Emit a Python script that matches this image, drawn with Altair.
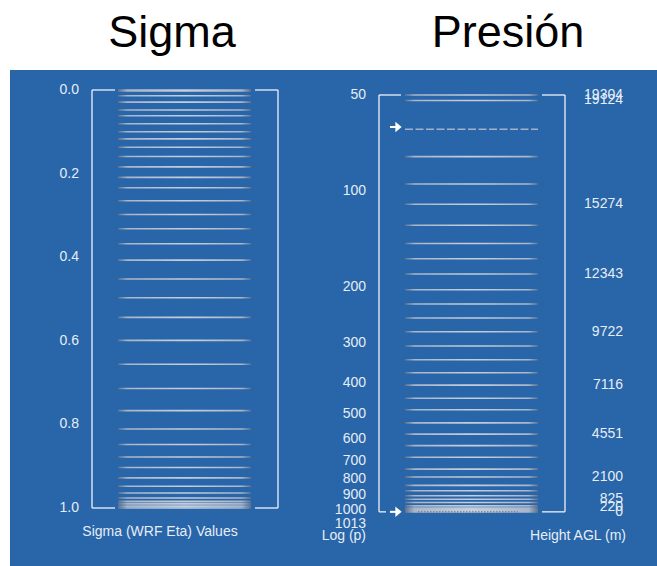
import altair as alt
import pandas as pd

# Model levels in sigma (WRF eta) coordinates, from model top (0) to surface (1)
sigma_levels = [0.0, 0.002, 0.0136, 0.029, 0.048, 0.0615, 0.0806, 0.100, 0.117,
                0.137, 0.159, 0.184, 0.209, 0.234, 0.265, 0.298, 0.332, 0.368,
                0.407, 0.452, 0.497, 0.544, 0.599, 0.656, 0.714, 0.767, 0.811,
                0.848, 0.878, 0.903, 0.928, 0.948, 0.964, 0.976, 0.984, 0.989,
                0.993, 0.997, 1.0]

# The same levels on a log-pressure axis (hPa)
pressure_levels = [50, 52, 78, 95, 110, 128, 146, 163, 182, 204, 226, 250, 276,
                   306, 338, 371, 406, 446, 485, 533, 578, 628, 683, 744, 788,
                   837, 870, 902, 925, 947, 970, 986, 993, 998, 1003, 1008, 1013]
dashed_pressure = [64]
surface_pressure = [1013]
arrow_pressure = [63, 1013]

sigma_bounds = [0.0, 1.0]
pressure_bounds = [50, 1013]

sigma_ticks = [0.0, 0.2, 0.4, 0.6, 0.8, 1.0]
sigma_tick_labels = ["0.0", "0.2", "0.4", "0.6", "0.8", "1.0"]
pressure_ticks = [50, 100, 200, 300, 400, 500, 600, 700, 800, 900, 1000]
pressure_tick_labels = ["50", "100", "200", "300", "400", "500", "600", "700",
                        "800", "900", "1000"]

# Height above ground (m) at selected levels
height_pressure = [50, 52, 110, 182, 276, 406, 578, 788, 920, 976, 1013]
height_labels = ["19304", "19124", "15274", "12343", "9722", "7116", "4551",
                 "2100", "825", "220", "0"]

panel_titles = ["Sigma", "Presión"]

BLUE = "#2865a9"
INK = "#e6edf6"
FRAME = "#eef3fa"
LABEL_FONT = "Liberation Sans"

SIG = alt.Scale(domain=[0, 1], range=[90, 508], nice=False, zero=False)
PRS = alt.Scale(type="log", domain=[50, 1013], range=[95, 511.85], nice=False)

level_fill = alt.LinearGradient(
    gradient="linear", x1=0, x2=1, y1=0, y2=0,
    stops=[
        alt.GradientStop(offset=0, color="#5d7190"),
        alt.GradientStop(offset=0.07, color="#a9b6c9"),
        alt.GradientStop(offset=0.5, color="#c6cfdb"),
        alt.GradientStop(offset=0.93, color="#a9b6c9"),
        alt.GradientStop(offset=1, color="#5d7190"),
    ],
)

one = pd.DataFrame({"k": [0]})
sig_df = pd.DataFrame({"s": sigma_levels})
prs_df = pd.DataFrame({"p": pressure_levels})
sig_bounds = pd.DataFrame({"s": [sigma_bounds[0]], "s2": [sigma_bounds[1]]})
sig_edges = pd.DataFrame({"s": sigma_bounds})
prs_bounds = pd.DataFrame({"p": [pressure_bounds[0]], "p2": [pressure_bounds[1]]})
prs_top = pd.DataFrame({"p": [pressure_bounds[0]]})
prs_edges = pd.DataFrame({"p": pressure_bounds})


def ys(field="s"):
    return alt.Y(f"{field}:Q", scale=SIG, axis=None)


def yp(field="p"):
    return alt.Y(f"{field}:Q", scale=PRS, axis=None)


def hrule(data, y, x1, x2, **kw):
    return alt.Chart(data).mark_rule(**kw).encode(
        y=y, x=alt.value(x1), x2=alt.value(x2))


def labels(data, y, x, align, **kw):
    return alt.Chart(data).mark_text(
        align=align, baseline="middle", font=LABEL_FONT, fontSize=14,
        color=INK, **kw).encode(y=y, x=alt.value(x), text="t:N")


frame_kw = dict(color=FRAME, strokeWidth=1.3)

layers = [
    # panel background
    alt.Chart(one).mark_rect(color=BLUE).encode(
        x=alt.value(10), x2=alt.value(657), y=alt.value(70), y2=alt.value(566)),
    # titles
    alt.Chart(one).mark_text(font="Liberation Sans", fontSize=45, color="black",
                             baseline="alphabetic", align="center").encode(
        x=alt.value(172), y=alt.value(47), text=alt.value(panel_titles[0])),
    alt.Chart(one).mark_text(font="Liberation Sans", fontSize=45, color="black",
                             baseline="alphabetic", align="center").encode(
        x=alt.value(508), y=alt.value(47), text=alt.value(panel_titles[1])),

    # ---- sigma panel ----
    alt.Chart(sig_df).mark_tick(orient="horizontal", size=133, thickness=1.6,
                                color=level_fill, opacity=1).encode(
        y=ys(), x=alt.value(184.5)),
    alt.Chart(sig_bounds).mark_rule(**frame_kw).encode(
        y=ys(), y2="s2:Q", x=alt.value(92)),
    alt.Chart(sig_bounds).mark_rule(**frame_kw).encode(
        y=ys(), y2="s2:Q", x=alt.value(278)),
    hrule(sig_edges, ys(), 92, 115, **frame_kw),
    hrule(sig_edges, ys(), 255, 278, **frame_kw),
    labels(pd.DataFrame({"s": sigma_ticks, "t": sigma_tick_labels}), ys(), 79, "right"),
    alt.Chart(one).mark_text(font=LABEL_FONT, fontSize=14, color=INK,
                             align="center", baseline="middle").encode(
        x=alt.value(160), y=alt.value(532), text=alt.value("Sigma (WRF Eta) Values")),

    # ---- pressure panel ----
    alt.Chart(prs_df).mark_tick(orient="horizontal", size=133, thickness=1.6,
                                color=level_fill, opacity=1).encode(
        y=yp(), x=alt.value(471.5)),
    hrule(pd.DataFrame({"p": dashed_pressure}), yp(), 405, 538,
          color="#a3b2c8", strokeWidth=1.5, strokeDash=[8, 2.5]),
    hrule(pd.DataFrame({"p": surface_pressure}), yp(), 418, 518,
          color="#5d6f88", strokeWidth=1, strokeDash=[1.5, 1.5]),
    alt.Chart(prs_bounds).mark_rule(**frame_kw).encode(
        y=yp(), y2="p2:Q", x=alt.value(379)),
    alt.Chart(prs_bounds).mark_rule(**frame_kw).encode(
        y=yp(), y2="p2:Q", x=alt.value(565)),
    hrule(prs_top, yp(), 379, 401, **frame_kw),
    hrule(pd.DataFrame({"p": surface_pressure}), yp(), 379, 386, **frame_kw),
    hrule(prs_edges, yp(), 542, 565, **frame_kw),
    # arrows marking the dashed level and the surface
    hrule(pd.DataFrame({"p": arrow_pressure}), yp(), 390, 397,
          color="white", strokeWidth=2),
    alt.Chart(pd.DataFrame({"p": arrow_pressure})).mark_point(
        shape="M -0.6 -1 L 0.6 0 L -0.6 1 Z", filled=True, color="white",
        size=110, opacity=1).encode(y=yp(), x=alt.value(398.5)),
    labels(pd.DataFrame({"p": pressure_ticks, "t": pressure_tick_labels}), yp(), 366, "right"),
    labels(pd.DataFrame({"p": surface_pressure, "t": ["1013"]}), yp(), 366, "right", dy=12),
    labels(pd.DataFrame({"p": height_pressure, "t": height_labels}), yp(), 623, "right"),
    alt.Chart(one).mark_text(font=LABEL_FONT, fontSize=14, color=INK,
                             align="right", baseline="middle").encode(
        x=alt.value(366), y=alt.value(536), text=alt.value("Log (p)")),
    alt.Chart(one).mark_text(font=LABEL_FONT, fontSize=14, color=INK,
                             align="center", baseline="middle").encode(
        x=alt.value(578), y=alt.value(536), text=alt.value("Height AGL (m)")),
]

chart = alt.layer(*layers).resolve_scale(y="independent").properties(
    width=657, height=566, padding=0,
    autosize=alt.AutoSizeParams(type="none"),
    background="white",
).configure_view(stroke=None)

chart.save("out.html", embed_options={"renderer": "svg", "actions": False})
